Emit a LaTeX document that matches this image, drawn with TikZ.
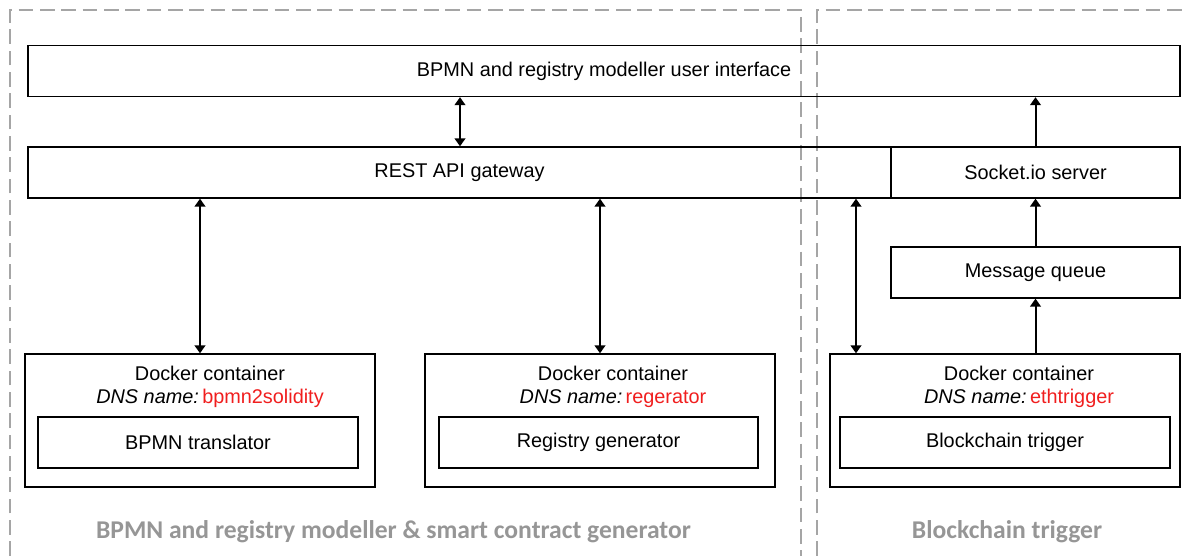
\documentclass[tikz,border=0pt]{standalone}
\usepackage{fontspec}
\setmainfont{Liberation Sans}
\newfontfamily\regionfont{Carlito}
\usetikzlibrary{arrows.meta}

\definecolor{regiongray}{RGB}{165,165,165}
\definecolor{titlegray}{RGB}{150,150,150}
\definecolor{dnsred}{RGB}{240,30,30}

\begin{document}
\begin{tikzpicture}[x=0.75pt,y=0.75pt,yscale=-1,xscale=1,
  every node/.style={font=\fontsize{14.9}{17.25}\selectfont},
  compbox/.style={draw, line width=1pt, inner sep=0pt, minimum height=51*0.75pt},
  dockbox/.style={draw, line width=1pt, inner sep=0pt, minimum width=350*0.75pt, minimum height=133*0.75pt},
  region/.style={draw=regiongray, line width=1.5pt, dash pattern=on 11pt off 5pt},
  regionlabel/.style={text=titlegray, font=\regionfont\bfseries\fontsize{19.2}{22}\selectfont},
  link/.style={line width=1.5pt, -{Triangle[length=6pt,width=8pt]}},
  twoway/.style={line width=1.5pt, {Triangle[length=6pt,width=8pt]}-{Triangle[length=6pt,width=8pt]}}]
\useasboundingbox (0,0) rectangle (1188,556);

% regions
\draw[region] (10,556) -- (10,10) -- (801,10) -- (801,556);
\draw[region] (817,556) -- (817,10) -- (1188,10);

% top layers
\node[compbox, minimum width=1152*0.75pt] (ui) at (604,71) {BPMN and registry modeller user interface};
\node[compbox, minimum width=863*0.75pt] (rest) at (459.5,172.5) {REST API gateway};
\node[compbox, minimum width=289*0.75pt] (socket) at (1035.5,172.5) {Socket.io server};
\node[compbox, minimum width=289*0.75pt] (queue) at (1035.5,272.5) {Message queue};

% docker containers
\node[dockbox] (dock1) at (200,420.5) {};
\node[align=center] (head1) at (210,387) {Docker container\\\textit{DNS name:}\,\textcolor{dnsred}{bpmn2solidity}};
\node[compbox, minimum width=320*0.75pt] (translator) at (198,442.5) {BPMN translator};

\node[dockbox] (dock2) at (600,420.5) {};
\node[align=center] (head2) at (613,387) {Docker container\\\textit{DNS name:}\,\textcolor{dnsred}{regerator}};
\node[compbox, minimum width=319*0.75pt] (generator) at (598.5,442.5) {Registry generator};

\node[dockbox] (dock3) at (1005,420.5) {};
\node[align=center] (head3) at (1019,387) {Docker container\\\textit{DNS name:}\,\textcolor{dnsred}{ethtrigger}};
\node[compbox, minimum width=330*0.75pt] (trigger) at (1005,442.5) {Blockchain trigger};

% region titles
\node[regionlabel] (lefttitle) at (393.5,532) {BPMN and registry modeller \& smart contract generator};
\node[regionlabel] (righttitle) at (1007,532) {Blockchain trigger};

% connections
\coordinate (uitap) at (460,0);
\coordinate (triggertap) at (856,0);
\draw[twoway] (ui.south -| uitap) -- (rest.north -| uitap);
\draw[twoway] (rest.south -| dock1.north) -- (dock1.north);
\draw[twoway] (rest.south -| dock2.north) -- (dock2.north);
\draw[twoway] (rest.south -| triggertap) -- (dock3.north -| triggertap);
\draw[link] (socket.north) -- (socket.north |- ui.south);
\draw[link] (queue.north) -- (socket.south);
\draw[link] (dock3.north -| queue.south) -- (queue.south);

\end{tikzpicture}
\end{document}
